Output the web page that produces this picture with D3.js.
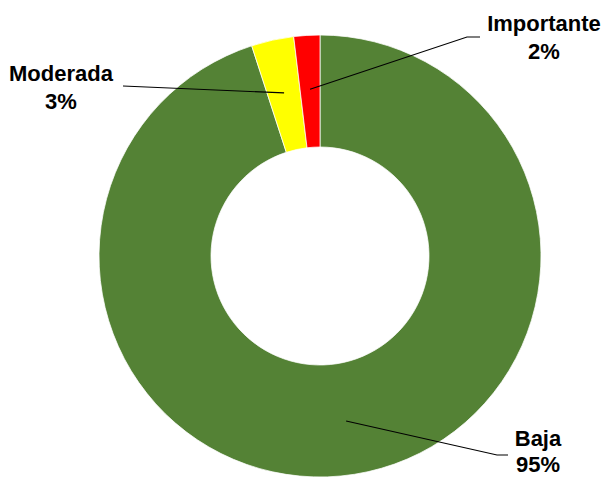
<!DOCTYPE html>
<html>
<head>
<meta charset="utf-8">
<script src="https://cdn.jsdelivr.net/npm/d3@7"></script>
<style>
  html, body { margin: 0; padding: 0; background: #fff; }
  svg { display: block; }
  text { font-family: "Liberation Sans", Arial, sans-serif; font-weight: bold; font-size: 22px; fill: #000; }
</style>
</head>
<body>
<svg id="chart" width="604" height="478"></svg>
<script>
// Data
const categories = ["Baja", "Moderada", "Importante"];
const values = [95.0, 3.1, 1.9];
const colors = ["#548235", "#FFFF00", "#FF0000"];

// Layout
const W = 604, H = 478;
const cx = 320, cy = 256;
const outerR = 221, innerR = 109, leaderR = 167;

// label layout: elbow points and text anchor (relative to svg)
const labelLayout = {
  "Baja":       { elbow: [497, 455], end: [508, 455], tx: 538, ty: 446, lh: 26 },
  "Moderada":   { elbow: [123, 86],  end: [123, 86],  tx: 61,  ty: 81,  lh: 28 },
  "Importante": { elbow: [467, 37],  end: [480, 37],  tx: 544, ty: 31,  lh: 28 }
};

const svg = d3.select("#chart");
const data = categories.map((c, i) => ({ name: c, value: values[i], color: colors[i] }));
const total = d3.sum(values);

const pie = d3.pie().value(d => d.value).sort(null);
const arcs = pie(data);

const arc = d3.arc().innerRadius(innerR).outerRadius(outerR);
const leaderArc = d3.arc().innerRadius(leaderR).outerRadius(leaderR);

const g = svg.append("g").attr("transform", `translate(${cx},${cy})`);

g.selectAll("path.slice")
  .data(arcs)
  .enter().append("path")
  .attr("class", "slice")
  .attr("d", arc)
  .attr("fill", d => d.data.color)
  .attr("stroke", "#ffffff")
  .attr("stroke-width", 0.75);

// leader lines and labels
arcs.forEach(a => {
  const L = labelLayout[a.data.name];
  const c = leaderArc.centroid(a);
  const p0 = [cx + c[0], cy + c[1]];
  svg.append("polyline")
    .attr("points", [p0, L.elbow, L.end].map(p => p.join(",")).join(" "))
    .attr("fill", "none")
    .attr("stroke", "#000")
    .attr("stroke-width", 1.1);

  const t = svg.append("text")
    .attr("x", L.tx)
    .attr("y", L.ty)
    .attr("text-anchor", "middle");
  t.append("tspan").attr("x", L.tx).text(a.data.name);
  t.append("tspan").attr("x", L.tx).attr("dy", L.lh)
    .text(Math.round(a.data.value / total * 100) + "%");
});
</script>
</body>
</html>
